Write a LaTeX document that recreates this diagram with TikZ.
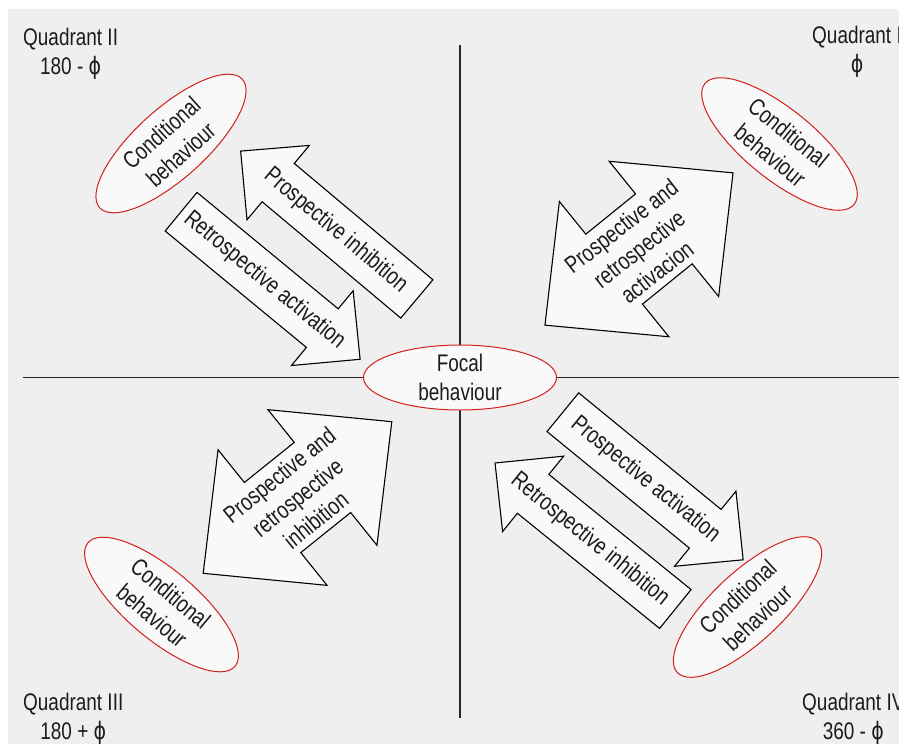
\documentclass[tikz,border=0pt]{standalone}
\usepackage{fontspec}
\setmainfont[FakeStretch=0.79]{Liberation Sans}
\newfontfamily\phifont[FakeStretch=0.79]{DejaVu Sans}
\newcommand\phisym{{\phifont ϕ}}
\usetikzlibrary{shapes.geometric}
\definecolor{bggrey}{RGB}{239,239,239}
\definecolor{shapefill}{RGB}{249,249,249}
\definecolor{ellred}{RGB}{212,30,30}
\definecolor{inkgrey}{RGB}{28,28,28}
\newcommand\sarrowpath[1]{%
  \pgfmathsetmacro\halfL{#1/2}%
  \draw[arrowbody] (-\halfL,25) -- ({\halfL-49},25) -- ({\halfL-49},48.5) -- (\halfL,0)
    -- ({\halfL-49},-48.5) -- ({\halfL-49},-25) -- (-\halfL,-25) -- cycle;}
\newcommand\darrowpath{%
  \draw[arrowbody] (-121,0) -- (-32,87) -- (-32,45) -- (32,45) -- (32,87) -- (121,0)
    -- (32,-87) -- (32,-45) -- (-32,-45) -- (-32,-87) -- cycle;}
\begin{document}
\begin{tikzpicture}[x=1pt,y=1pt,
  every node/.style={text=inkgrey, font=\fontsize{24}{29}\selectfont},
  arrowbody/.style={draw=black, fill=shapefill, line width=1.1pt, line join=miter},
  arrowtext/.style={inner sep=0pt, align=center},
  condell/.style={ellipse, draw=ellred, fill=shapefill, line width=1pt, inner sep=0pt,
     minimum width=192, minimum height=70, align=center},
  quadlabel/.style={inner sep=0pt, align=center, anchor=north west},
  axisline/.style={draw=black!85, line width=1.3pt}]
\useasboundingbox (0,0) rectangle (899,-744);
\clip (0,0) rectangle (899,-744);
\fill[bggrey] (8,-9) rectangle (899,-744);
% axes
\coordinate (axL) at (23,-377.5);
\coordinate (axR) at (899,-377.5);
\coordinate (axT) at (460,-45);
\coordinate (axB) at (460,-718);
\draw[axisline] (axL) -- (axR);
\draw[axisline] (axT) -- (axB);
% quadrant labels
\node[quadlabel] (q2) at (23,-27.5) {Quadrant II\\180 - \phisym};
\node[quadlabel] (q1) at (812,-26) {Quadrant I\\\phisym};
\node[quadlabel] (q3) at (23,-692.5) {Quadrant III\\180 + \phisym};
\node[quadlabel] (q4) at (802,-692.5) {Quadrant IV\\360 - \phisym};
% Quadrant II arrows
\begin{scope}[shift={(328.75,-225)}, rotate=140]
  \sarrowpath{230}
  \node[arrowtext, rotate=-40] (tpi) at (-9,0) {Prospective inhibition};
\end{scope}
\begin{scope}[shift={(270.6,-285.5)}, rotate=-39.5]
  \sarrowpath{232}
  \node[arrowtext, rotate=-39.5] (tra) at (-8,0) {Retrospective activation};
\end{scope}
% Quadrant IV arrows
\begin{scope}[shift={(653,-486)}, rotate=-39.3]
  \sarrowpath{233}
  \node[arrowtext, rotate=-39.3] (tpa) at (-10,0) {Prospective activation};
\end{scope}
\begin{scope}[shift={(585.2,-536)}, rotate=141]
  \sarrowpath{232}
  \node[arrowtext, rotate=-39] (tri) at (-6,0) {Retrospective inhibition};
\end{scope}
% Quadrant I double arrow
\begin{scope}[shift={(639,-249)}, rotate=39]
  \darrowpath
  \node[arrowtext, rotate=38] (tdact) at (0,0) {Prospective and\\retrospective\\activacion};
\end{scope}
% Quadrant III double arrow
\begin{scope}[shift={(297.5,-497.5)}, rotate=38.8]
  \darrowpath
  \node[arrowtext, rotate=39] (tdinh) at (0,0) {Prospective and\\retrospective\\inhibition};
\end{scope}
% conditional behaviour ellipses
\node[condell, rotate=42] (c2) at (171,-143.5) {Conditional\\behaviour};
\node[condell, rotate=-39] (c1) at (779.5,-144) {Conditional\\behaviour};
\node[condell, rotate=-40] (c3) at (161.5,-604.5) {Conditional\\behaviour};
\node[condell, rotate=43] (c4) at (747.5,-607) {Conditional\\behaviour};
% focal behaviour
\node[ellipse, draw=ellred, fill=shapefill, line width=1pt, inner sep=0pt, inner ysep=-3pt,
  minimum width=193, minimum height=65, align=center] (focal) at (460,-377.5) {Focal\\behaviour};
\end{tikzpicture}
\end{document}
